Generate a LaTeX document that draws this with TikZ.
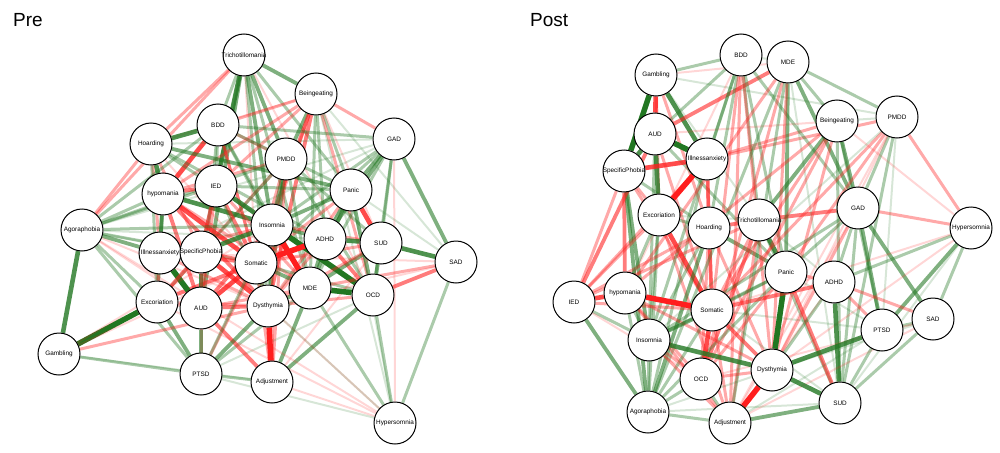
\documentclass[tikz,border=0pt]{standalone}
\usepackage{fontspec}
\setmainfont{Liberation Sans}
\usetikzlibrary{backgrounds}
\definecolor{posgreen}{RGB}{34,119,34}
\definecolor{negred}{RGB}{255,30,30}
\newcommand{\nm}[1]{\makebox[0pt]{#1}}
\tikzset{
  disorder/.style={circle, draw=black, line width=1pt, fill=white, minimum size=42pt, inner sep=0pt, font=\fontsize{6.4}{7}\selectfont},
  gl/.style={draw=posgreen},
  rl/.style={draw=negred},
  w1/.style={line width=2pt, draw opacity=0.18},
  w2/.style={line width=3pt, draw opacity=0.38},
  w3/.style={line width=3.8pt, draw opacity=0.58},
  w4/.style={line width=4.6pt, draw opacity=0.8},
  w5/.style={line width=5.5pt, draw opacity=1}
}
\begin{document}
\begin{tikzpicture}[x=1pt, y=-1pt]
                    \useasboundingbox (0,0) rectangle (1000,452);
                    
                    % Marking panel titles
                    \node [anchor=base west, inner sep=0pt, font=\fontsize{19}{22}\selectfont] (preTitle) at (13,27) {Pre};%
                    \node [anchor=base west, inner sep=0pt, font=\fontsize{19}{22}\selectfont] (postTitle) at (530,27) {Post};%
                    
                    % Marking nodes of the pre network
                    \node [disorder] (aTri) at (244,55) {\nm{Trichotillomania}};%
                    \node [disorder] (aBin) at (316,94) {\nm{Beingeating}};%
                    \node [disorder] (aBDD) at (218,125) {\nm{BDD}};%
                    \node [disorder] (aHoa) at (151,144) {\nm{Hoarding}};%
                    \node [disorder] (aGAD) at (394,139) {\nm{GAD}};%
                    \node [disorder] (aPMDD) at (286,159) {\nm{PMDD}};%
                    \node [disorder] (aHyp) at (163,194) {\nm{hypomania}};%
                    \node [disorder] (aIED) at (216,186) {\nm{IED}};%
                    \node [disorder] (aPan) at (351,190) {\nm{Panic}};%
                    \node [disorder] (aIns) at (272,225) {\nm{Insomnia}};%
                    \node [disorder] (aAgo) at (82,230) {\nm{Agoraphobia}};%
                    \node [disorder] (aIll) at (160,253) {\nm{Illnessanxiety}};%
                    \node [disorder] (aSpe) at (201,252) {\nm{SpecificPhobia}};%
                    \node [disorder] (aSom) at (256,263) {\nm{Somatic}};%
                    \node [disorder] (aADHD) at (325,239) {\nm{ADHD}};%
                    \node [disorder] (aSUD) at (381,243) {\nm{SUD}};%
                    \node [disorder] (aSAD) at (456,262) {\nm{SAD}};%
                    \node [disorder] (aMDE) at (310,288) {\nm{MDE}};%
                    \node [disorder] (aOCD) at (373,295) {\nm{OCD}};%
                    \node [disorder] (aExc) at (157,302) {\nm{Excoriation}};%
                    \node [disorder] (aAUD) at (201,308) {\nm{AUD}};%
                    \node [disorder] (aDys) at (268,306) {\nm{Dysthymia}};%
                    \node [disorder] (aGam) at (59,354) {\nm{Gambling}};%
                    \node [disorder] (aPTSD) at (201,374) {\nm{PTSD}};%
                    \node [disorder] (aAdj) at (272,382) {\nm{Adjustment}};%
                    \node [disorder] (aHsom) at (395,423) {\nm{Hypersomnia}};%
                    
                    % Marking nodes of the post network
                    \node [disorder] (bBDD) at (741,55) {\nm{BDD}};%
                    \node [disorder] (bMDE) at (788,62) {\nm{MDE}};%
                    \node [disorder] (bGam) at (656,75) {\nm{Gambling}};%
                    \node [disorder] (bBin) at (837,121) {\nm{Beingeating}};%
                    \node [disorder] (bPMDD) at (897,117) {\nm{PMDD}};%
                    \node [disorder] (bAUD) at (655,134) {\nm{AUD}};%
                    \node [disorder] (bIll) at (707,159) {\nm{Illnessanxiety}};%
                    \node [disorder] (bSpe) at (624,171) {\nm{SpecificPhobia}};%
                    \node [disorder] (bGAD) at (858,208) {\nm{GAD}};%
                    \node [disorder] (bExc) at (659,215) {\nm{Excoriation}};%
                    \node [disorder] (bHoa) at (709,228) {\nm{Hoarding}};%
                    \node [disorder] (bTri) at (759,220) {\nm{Trichotillomania}};%
                    \node [disorder] (bHsom) at (971,228) {\nm{Hypersomnia}};%
                    \node [disorder] (bPan) at (786,272) {\nm{Panic}};%
                    \node [disorder] (bADHD) at (834,282) {\nm{ADHD}};%
                    \node [disorder] (bIED) at (574,302) {\nm{IED}};%
                    \node [disorder] (bHyp) at (625,293) {\nm{hypomania}};%
                    \node [disorder] (bSom) at (712,310) {\nm{Somatic}};%
                    \node [disorder] (bSAD) at (933,319) {\nm{SAD}};%
                    \node [disorder] (bPTSD) at (882,330) {\nm{PTSD}};%
                    \node [disorder] (bIns) at (649,340) {\nm{Insomnia}};%
                    \node [disorder] (bOCD) at (701,379) {\nm{OCD}};%
                    \node [disorder] (bDys) at (772,370) {\nm{Dysthymia}};%
                    \node [disorder] (bSUD) at (840,403) {\nm{SUD}};%
                    \node [disorder] (bAgo) at (648,412) {\nm{Agoraphobia}};%
                    \node [disorder] (bAdj) at (730,423) {\nm{Adjustment}};%
                    
                    \begin{scope}[on background layer]
                    % Drawing edges of the pre network, upper part
                    \draw [gl,w3] (aTri) -- (aBin);%
                    \draw [rl,w2] (aTri) -- (aHoa);%
                    \draw [rl,w2] (aTri) -- (aAgo);%
                    \draw [gl,w2] (aTri) -- (aBDD);%
                    \draw [gl,w4] (aTri) -- (aIED);%
                    \draw [gl,w3] (aTri) -- (aAUD);%
                    \draw [gl,w3] (aTri) -- (aIns);%
                    \draw [gl,w3] (aTri) -- (aPMDD);%
                    \draw [rl,w1] (aTri) -- (aSom);%
                    \draw [gl,w2] (aTri) -- (aDys);%
                    \draw [gl,w2] (aTri) -- (aPan);%
                    \draw [gl,w2] (aTri) -- (aMDE);%
                    \draw [rl,w1] (aTri) -- (aOCD);%
                    \draw [gl,w2] (aTri) -- (aSpe);%
                    \draw [rl,w2] (aBin) -- (aGAD);%
                    \draw [gl,w3] (aBin) -- (aPMDD);%
                    \draw [rl,w2] (aBin) -- (aBDD);%
                    \draw [rl,w1] (aBin) -- (aHoa);%
                    \draw [rl,w3] (aBin) -- (aSom);%
                    \draw [rl,w3] (aBin) -- (aDys);%
                    \draw [rl,w2] (aBin) -- (aIns);%
                    \draw [gl,w2] (aBin) -- (aMDE);%
                    \draw [gl,w2] (aBin) -- (aPan);%
                    \draw [rl,w2] (aBin) -- (aHyp);%
                    \draw [rl,w1] (aBin) -- (aSUD);%
                    \draw [rl,w2] (aBin) -- (aOCD);%
                    \draw [rl,w2] (aBin) -- (aIED);%
                    \draw [gl,w2] (aBin) -- (aADHD);%
                    \draw [gl,w1] (aBin) -- (aHsom);%
                    \draw [gl,w1] (aBin) -- (aSAD);%
                    \draw [gl,w4] (aBDD) -- (aHoa);%
                    \draw [rl,w4] (aBDD) -- (aHyp);%
                    \draw [gl,w2] (aBDD) -- (aIED);%
                    \draw [rl,w2] (aBDD) -- (aPMDD);%
                    \draw [gl,w2] (aBDD) -- (aPan);%
                    \draw [rl,w2] (aBDD) -- (aSom);%
                    \draw [gl,w2] (aBDD) -- (aIns);%
                    \draw [gl,w2] (aBDD) -- (aAUD);%
                    \draw [rl,w2] (aBDD) -- (aDys);%
                    \draw [gl,w2] (aBDD) -- (aGAD);%
                    \draw [gl,w2] (aBDD) -- (aMDE);%
                    \draw [gl,w4] (aHoa) -- (aHyp);%
                    \draw [gl,w3] (aHoa) -- (aPan);%
                    \draw [rl,w2] (aHoa) -- (aIll);%
                    \draw [gl,w2] (aHoa) -- (aIns);%
                    \draw [rl,w2] (aHoa) -- (aAgo);%
                    \draw [rl,w2] (aHoa) -- (aSpe);%
                    \draw [gl,w2] (aHoa) -- (aExc);%
                    \draw [gl,w1] (aHoa) -- (aGAD);%
                    \draw [gl,w2] (aHoa) -- (aADHD);%
                    \draw [rl,w1] (aHoa) -- (aSom);%
                    \draw [gl,w3] (aGAD) -- (aPan);%
                    \draw [gl,w3] (aGAD) -- (aSAD);%
                    \draw [gl,w3] (aGAD) -- (aADHD);%
                    \draw [gl,w2] (aGAD) -- (aSUD);%
                    \draw [gl,w2] (aGAD) -- (aIns);%
                    \draw [gl,w2] (aGAD) -- (aMDE);%
                    \draw [gl,w1] (aGAD) -- (aAgo);%
                    \draw [rl,w1] (aGAD) -- (aHsom);%
                    \draw [gl,w2] (aGAD) -- (aOCD);%
                    \draw [gl,w1] (aGAD) -- (aIll);%
                    \draw [gl,w2] (aGAD) -- (aSom);%
                    \draw [gl,w1] (aGAD) -- (aDys);%
                    \draw [gl,w3] (aPMDD) -- (aIns);%
                    \draw [rl,w2] (aPMDD) -- (aSom);%
                    \draw [gl,w3] (aPMDD) -- (aDys);%
                    \draw [rl,w2] (aPMDD) -- (aHyp);%
                    \draw [gl,w2] (aPMDD) -- (aAgo);%
                    \draw [gl,w2] (aPMDD) -- (aMDE);%
                    \draw [rl,w2] (aPMDD) -- (aAdj);%
                    \draw [rl,w2] (aPMDD) -- (aSpe);%
                    \draw [gl,w2] (aPMDD) -- (aSUD);%
                    \draw [gl,w2] (aPMDD) -- (aOCD);%
                    \draw [gl,w2] (aPMDD) -- (aExc);%
                    
                    % Drawing edges of the pre network, centre
                    \draw [rl,w3] (aHyp) -- (aIED);%
                    \draw [gl,w4] (aHyp) -- (aIns);%
                    \draw [rl,w4] (aHyp) -- (aSom);%
                    \draw [rl,w3] (aHyp) -- (aDys);%
                    \draw [gl,w3] (aHyp) -- (aIll);%
                    \draw [gl,w2] (aHyp) -- (aAgo);%
                    \draw [gl,w3] (aHyp) -- (aExc);%
                    \draw [rl,w3] (aHyp) -- (aAUD);%
                    \draw [rl,w2] (aHyp) -- (aMDE);%
                    \draw [gl,w4] (aIED) -- (aIns);%
                    \draw [rl,w3] (aIED) -- (aSpe);%
                    \draw [rl,w3] (aIED) -- (aSom);%
                    \draw [rl,w2] (aIED) -- (aAUD);%
                    \draw [rl,w2] (aIED) -- (aMDE);%
                    \draw [gl,w2] (aIED) -- (aPan);%
                    \draw [gl,w2] (aIED) -- (aDys);%
                    \draw [rl,w4] (aPan) -- (aSUD);%
                    \draw [gl,w3] (aPan) -- (aADHD);%
                    \draw [gl,w3] (aPan) -- (aIns);%
                    \draw [gl,w3] (aPan) -- (aOCD);%
                    \draw [gl,w3] (aPan) -- (aMDE);%
                    \draw [gl,w1] (aPan) -- (aSAD);%
                    \draw [rl,w2] (aPan) -- (aDys);%
                    \draw [rl,w2] (aPan) -- (aSom);%
                    \draw [gl,w4] (aIns) -- (aSpe);%
                    \draw [gl,w5] (aIns) -- (aOCD);%
                    \draw [rl,w5] (aIns) -- (aMDE);%
                    \draw [rl,w3] (aIns) -- (aSom);%
                    \draw [gl,w3] (aIns) -- (aADHD);%
                    \draw [rl,w3] (aIns) -- (aAUD);%
                    \draw [gl,w2] (aIns) -- (aDys);%
                    \draw [rl,w2] (aIns) -- (aSUD);%
                    \draw [rl,w2] (aIns) -- (aIll);%
                    \draw [rl,w5] (aSom) -- (aADHD);%
                    \draw [rl,w3] (aSom) -- (aSpe);%
                    \draw [rl,w4] (aSom) -- (aAUD);%
                    \draw [rl,w3] (aSom) -- (aIll);%
                    \draw [gl,w3] (aSom) -- (aDys);%
                    \draw [gl,w3] (aSom) -- (aMDE);%
                    \draw [rl,w2] (aSom) -- (aSUD);%
                    \draw [rl,w3] (aSom) -- (aExc);%
                    \draw [gl,w2] (aSom) -- (aOCD);%
                    \draw [rl,w2] (aSom) -- (aAdj);%
                    \draw [gl,w4] (aADHD) -- (aSUD);%
                    \draw [rl,w3] (aADHD) -- (aOCD);%
                    \draw [gl,w3] (aADHD) -- (aMDE);%
                    \draw [rl,w2] (aADHD) -- (aDys);%
                    \draw [gl,w4] (aSUD) -- (aSAD);%
                    \draw [gl,w3] (aSUD) -- (aOCD);%
                    \draw [gl,w3] (aSUD) -- (aMDE);%
                    \draw [rl,w1] (aSUD) -- (aAdj);%
                    \draw [rl,w2] (aSUD) -- (aDys);%
                    \draw [rl,w3] (aSAD) -- (aOCD);%
                    \draw [rl,w2] (aSAD) -- (aMDE);%
                    \draw [gl,w2] (aSAD) -- (aHsom);%
                    \draw [rl,w1] (aSAD) -- (aDys);%
                    \draw [rl,w1] (aSAD) -- (aIll);%
                    \draw [gl,w5] (aMDE) -- (aOCD);%
                    \draw [gl,w3] (aMDE) -- (aDys);%
                    \draw [gl,w3] (aMDE) -- (aAdj);%
                    \draw [rl,w2] (aMDE) -- (aAUD);%
                    \draw [gl,w2] (aMDE) -- (aPTSD);%
                    \draw [gl,w3] (aOCD) -- (aAdj);%
                    \draw [gl,w2] (aOCD) -- (aHsom);%
                    \draw [rl,w2] (aOCD) -- (aDys);%
                    \draw [gl,w1] (aOCD) -- (aPTSD);%
                    
                    % Drawing edges of the pre network, lower part
                    \draw [gl,w4] (aAgo) -- (aGam);%
                    \draw [gl,w3] (aAgo) -- (aIll);%
                    \draw [gl,w2] (aAgo) -- (aExc);%
                    \draw [gl,w2] (aAgo) -- (aSpe);%
                    \draw [gl,w2] (aAgo) -- (aPTSD);%
                    \draw [gl,w2] (aAgo) -- (aIED);%
                    \draw [gl,w2] (aAgo) -- (aIns);%
                    \draw [gl,w1] (aAgo) -- (aSom);%
                    \draw [gl,w1] (aAgo) -- (aADHD);%
                    \draw [gl,w2] (aAgo) -- (aBDD);%
                    \draw [rl,w1] (aAgo) -- (aDys);%
                    \draw [rl,w1] (aAgo) -- (aAUD);%
                    \draw [rl,w1] (aAgo) -- (aHsom);%
                    \draw [gl,w5] (aIll) -- (aAUD);%
                    \draw [gl,w2] (aIll) -- (aSpe);%
                    \draw [rl,w2] (aIll) -- (aExc);%
                    \draw [rl,w2] (aIll) -- (aDys);%
                    \draw [gl,w4] (aSpe) -- (aAUD);%
                    \draw [rl,w4] (aSpe) -- (aDys);%
                    \draw [rl,w3] (aSpe) -- (aExc);%
                    \draw [rl,w2] (aSpe) -- (aPTSD);%
                    \draw [gl,w5] (aExc) -- (aGam);%
                    \draw [gl,w3] (aExc) -- (aPTSD);%
                    \draw [rl,w2] (aExc) -- (aAUD);%
                    \draw [rl,w2] (aExc) -- (aDys);%
                    \draw [gl,w3] (aAUD) -- (aPTSD);%
                    \draw [rl,w3] (aAUD) -- (aDys);%
                    \draw [rl,w3] (aAUD) -- (aAdj);%
                    \draw [gl,w3] (aDys) -- (aPTSD);%
                    \draw [rl,w5] (aDys) -- (aAdj);%
                    \draw [rl,w1] (aDys) -- (aHsom);%
                    \draw [gl,w2] (aGam) -- (aPTSD);%
                    \draw [rl,w2] (aGam) -- (aDys);%
                    \draw [rl,w1] (aGam) -- (aSom);%
                    \draw [gl,w1] (aGam) -- (aAdj);%
                    \draw [rl,w1] (aGam) -- (aIns);%
                    \draw [gl,w2] (aPTSD) -- (aAdj);%
                    \draw [rl,w2] (aPTSD) -- (aSom);%
                    \draw [gl,w2] (aPTSD) -- (aIns);%
                    \draw [rl,w1] (aAdj) -- (aHsom);%
                    \draw [rl,w2] (aAdj) -- (aIns);%
                    \draw [gl,w2] (aHsom) -- (aMDE);%
                    \draw [gl,w1] (aHsom) -- (aDys);%
                    \draw [rl,w1] (aHsom) -- (aExc);%
                    \draw [gl,w1] (aHsom) -- (aPTSD);%
                    \draw [gl,w1] (aHsom) -- (aPan);%
                    
                    % Drawing edges of the post network, upper part
                    \draw [rl,w4] (bGam) -- (bAUD);%
                    \draw [gl,w5] (bGam) -- (bSpe);%
                    \draw [gl,w4] (bGam) -- (bIll);%
                    \draw [rl,w2] (bGam) -- (bHoa);%
                    \draw [gl,w2] (bGam) -- (bBDD);%
                    \draw [rl,w1] (bGam) -- (bMDE);%
                    \draw [rl,w2] (bGam) -- (bExc);%
                    \draw [gl,w1] (bGam) -- (bTri);%
                    \draw [gl,w1] (bGam) -- (bPMDD);%
                    \draw [gl,w5] (bAUD) -- (bIll);%
                    \draw [gl,w4] (bAUD) -- (bExc);%
                    \draw [gl,w4] (bAUD) -- (bSpe);%
                    \draw [rl,w3] (bAUD) -- (bMDE);%
                    \draw [gl,w2] (bAUD) -- (bBDD);%
                    \draw [gl,w2] (bAUD) -- (bIns);%
                    \draw [gl,w2] (bAUD) -- (bPan);%
                    \draw [rl,w2] (bAUD) -- (bSom);%
                    \draw [rl,w1] (bAUD) -- (bBin);%
                    \draw [rl,w4] (bIll) -- (bSpe);%
                    \draw [rl,w5] (bIll) -- (bExc);%
                    \draw [rl,w3] (bIll) -- (bHoa);%
                    \draw [gl,w2] (bIll) -- (bBDD);%
                    \draw [rl,w2] (bIll) -- (bBin);%
                    \draw [rl,w2] (bIll) -- (bPMDD);%
                    \draw [gl,w2] (bIll) -- (bAgo);%
                    \draw [rl,w2] (bIll) -- (bSom);%
                    \draw [rl,w2] (bIll) -- (bIED);%
                    \draw [rl,w2] (bSpe) -- (bExc);%
                    \draw [rl,w3] (bSpe) -- (bHyp);%
                    \draw [gl,w3] (bSpe) -- (bIns);%
                    \draw [gl,w3] (bSpe) -- (bAgo);%
                    \draw [rl,w2] (bSpe) -- (bIED);%
                    \draw [rl,w2] (bSpe) -- (bSom);%
                    \draw [gl,w2] (bSpe) -- (bHoa);%
                    \draw [rl,w4] (bExc) -- (bSom);%
                    \draw [gl,w2] (bExc) -- (bHoa);%
                    \draw [gl,w2] (bExc) -- (bIns);%
                    \draw [gl,w2] (bExc) -- (bAgo);%
                    \draw [rl,w2] (bExc) -- (bIED);%
                    \draw [rl,w2] (bExc) -- (bAdj);%
                    \draw [gl,w1] (bExc) -- (bTri);%
                    \draw [rl,w3] (bHoa) -- (bTri);%
                    \draw [gl,w3] (bHoa) -- (bPan);%
                    \draw [gl,w3] (bHoa) -- (bAgo);%
                    \draw [rl,w3] (bHoa) -- (bSom);%
                    \draw [gl,w2] (bHoa) -- (bBDD);%
                    \draw [rl,w2] (bHoa) -- (bDys);%
                    \draw [rl,w2] (bHoa) -- (bOCD);%
                    \draw [gl,w2] (bHoa) -- (bIns);%
                    \draw [rl,w3] (bTri) -- (bGAD);%
                    \draw [gl,w4] (bTri) -- (bPan);%
                    \draw [gl,w3] (bTri) -- (bBin);%
                    \draw [gl,w2] (bTri) -- (bBDD);%
                    \draw [rl,w3] (bTri) -- (bOCD);%
                    \draw [rl,w2] (bTri) -- (bSom);%
                    \draw [rl,w2] (bTri) -- (bIED);%
                    \draw [gl,w2] (bTri) -- (bSUD);%
                    \draw [gl,w1] (bTri) -- (bADHD);%
                    \draw [rl,w2] (bTri) -- (bAdj);%
                    \draw [gl,w1] (bBDD) -- (bMDE);%
                    \draw [rl,w2] (bBDD) -- (bSom);%
                    \draw [rl,w2] (bBDD) -- (bAdj);%
                    \draw [gl,w2] (bBDD) -- (bPan);%
                    \draw [gl,w2] (bBDD) -- (bIns);%
                    \draw [gl,w2] (bBDD) -- (bGAD);%
                    \draw [rl,w2] (bBDD) -- (bDys);%
                    \draw [rl,w1] (bBDD) -- (bHyp);%
                    \draw [gl,w3] (bMDE) -- (bGAD);%
                    \draw [gl,w2] (bMDE) -- (bPMDD);%
                    \draw [gl,w3] (bMDE) -- (bPan);%
                    \draw [gl,w2] (bMDE) -- (bBin);%
                    \draw [rl,w2] (bMDE) -- (bDys);%
                    \draw [gl,w2] (bMDE) -- (bAgo);%
                    \draw [rl,w2] (bMDE) -- (bOCD);%
                    \draw [gl,w2] (bMDE) -- (bAdj);%
                    \draw [rl,w2] (bMDE) -- (bHyp);%
                    \draw [gl,w1] (bMDE) -- (bSUD);%
                    \draw [gl,w1] (bBin) -- (bPMDD);%
                    \draw [gl,w3] (bBin) -- (bGAD);%
                    \draw [rl,w2] (bBin) -- (bOCD);%
                    \draw [rl,w2] (bBin) -- (bSom);%
                    \draw [rl,w2] (bBin) -- (bDys);%
                    \draw [gl,w2] (bBin) -- (bPTSD);%
                    \draw [gl,w2] (bBin) -- (bSUD);%
                    \draw [rl,w2] (bBin) -- (bHyp);%
                    \draw [rl,w1] (bBin) -- (bHsom);%
                    \draw [rl,w2] (bPMDD) -- (bHsom);%
                    \draw [gl,w2] (bPMDD) -- (bSUD);%
                    \draw [gl,w2] (bPMDD) -- (bGAD);%
                    \draw [rl,w2] (bPMDD) -- (bSom);%
                    \draw [rl,w2] (bPMDD) -- (bPan);%
                    \draw [rl,w1] (bPMDD) -- (bDys);%
                    \draw [gl,w1] (bPMDD) -- (bPTSD);%
                    \draw [gl,w1] (bPMDD) -- (bIns);%
                    \draw [rl,w1] (bPMDD) -- (bAdj);%
                    
                    % Drawing edges of the post network, right part
                    \draw [gl,w2] (bGAD) -- (bADHD);%
                    \draw [gl,w3] (bGAD) -- (bPTSD);%
                    \draw [gl,w3] (bGAD) -- (bSAD);%
                    \draw [rl,w2] (bGAD) -- (bHsom);%
                    \draw [rl,w2] (bGAD) -- (bDys);%
                    \draw [gl,w2] (bGAD) -- (bPan);%
                    \draw [gl,w2] (bGAD) -- (bSUD);%
                    \draw [rl,w1] (bGAD) -- (bAdj);%
                    \draw [gl,w2] (bGAD) -- (bIns);%
                    \draw [gl,w2] (bHsom) -- (bADHD);%
                    \draw [gl,w3] (bHsom) -- (bPTSD);%
                    \draw [gl,w2] (bHsom) -- (bSAD);%
                    \draw [rl,w1] (bHsom) -- (bDys);%
                    \draw [rl,w1] (bHsom) -- (bSom);%
                    \draw [gl,w1] (bHsom) -- (bSUD);%
                    \draw [gl,w5] (bPan) -- (bDys);%
                    \draw [rl,w3] (bPan) -- (bSUD);%
                    \draw [gl,w2] (bPan) -- (bSom);%
                    \draw [rl,w2] (bPan) -- (bADHD);%
                    \draw [gl,w2] (bPan) -- (bIns);%
                    \draw [rl,w2] (bPan) -- (bOCD);%
                    \draw [gl,w2] (bPan) -- (bAgo);%
                    \draw [gl,w1] (bPan) -- (bPTSD);%
                    \draw [gl,w4] (bADHD) -- (bSUD);%
                    \draw [rl,w3] (bADHD) -- (bSom);%
                    \draw [rl,w2] (bADHD) -- (bSAD);%
                    \draw [rl,w2] (bADHD) -- (bPTSD);%
                    \draw [rl,w1] (bADHD) -- (bAdj);%
                    \draw [gl,w2] (bADHD) -- (bDys);%
                    \draw [gl,w2] (bSAD) -- (bSUD);%
                    \draw [gl,w2] (bSAD) -- (bPTSD);%
                    \draw [gl,w1] (bSAD) -- (bDys);%
                    \draw [rl,w1] (bSAD) -- (bAdj);%
                    \draw [rl,w1] (bSAD) -- (bOCD);%
                    \draw [gl,w4] (bPTSD) -- (bDys);%
                    \draw [gl,w2] (bPTSD) -- (bSUD);%
                    \draw [gl,w1] (bPTSD) -- (bAdj);%
                    \draw [gl,w1] (bPTSD) -- (bSom);%
                    
                    % Drawing edges of the post network, lower left part
                    \draw [rl,w4] (bIED) -- (bHyp);%
                    \draw [gl,w3] (bIED) -- (bAgo);%
                    \draw [gl,w2] (bIED) -- (bIns);%
                    \draw [rl,w3] (bIED) -- (bAUD);%
                    \draw [rl,w2] (bIED) -- (bSom);%
                    \draw [rl,w1] (bIED) -- (bOCD);%
                    \draw [rl,w2] (bIED) -- (bHoa);%
                    \draw [rl,w5] (bHyp) -- (bSom);%
                    \draw [gl,w2] (bHyp) -- (bIns);%
                    \draw [gl,w2] (bHyp) -- (bAgo);%
                    \draw [rl,w2] (bHyp) -- (bAdj);%
                    \draw [rl,w2] (bHyp) -- (bDys);%
                    \draw [rl,w2] (bHyp) -- (bOCD);%
                    \draw [gl,w2] (bHyp) -- (bExc);%
                    \draw [gl,w3] (bSom) -- (bIns);%
                    \draw [rl,w4] (bSom) -- (bOCD);%
                    \draw [rl,w3] (bSom) -- (bDys);%
                    \draw [rl,w2] (bSom) -- (bAdj);%
                    \draw [gl,w2] (bSom) -- (bAgo);%
                    \draw [gl,w1] (bSom) -- (bSUD);%
                    \draw [gl,w4] (bIns) -- (bDys);%
                    \draw [gl,w2] (bIns) -- (bAgo);%
                    \draw [rl,w2] (bIns) -- (bAdj);%
                    \draw [rl,w2] (bIns) -- (bOCD);%
                    \draw [gl,w2] (bOCD) -- (bAdj);%
                    \draw [rl,w2] (bOCD) -- (bDys);%
                    \draw [gl,w2] (bOCD) -- (bAgo);%
                    \draw [gl,w4] (bDys) -- (bSUD);%
                    \draw [rl,w5] (bDys) -- (bAdj);%
                    \draw [gl,w1] (bDys) -- (bAgo);%
                    \draw [gl,w3] (bSUD) -- (bAdj);%
                    \draw [gl,w1] (bSUD) -- (bAgo);%
                    \draw [gl,w2] (bAgo) -- (bAdj);%
                    \end{scope}
                \end{tikzpicture}
\end{document}
